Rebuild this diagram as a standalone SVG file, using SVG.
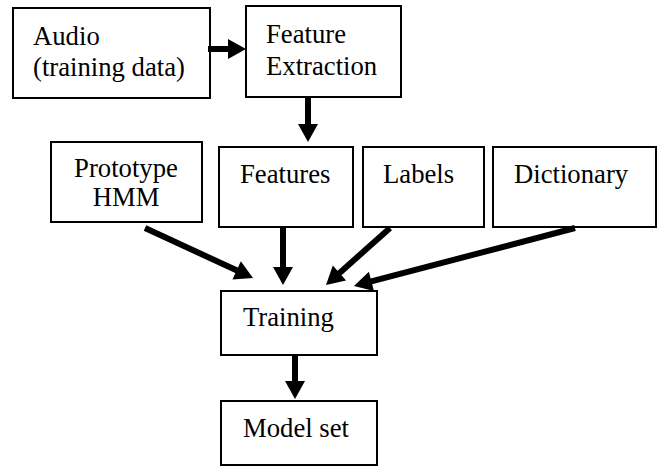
<svg xmlns="http://www.w3.org/2000/svg" width="665" height="466" viewBox="0 0 665 466">
<rect width="665" height="466" fill="#fff"/>
<g id="audio">
<rect x="13" y="8" width="197" height="90" fill="#fff" stroke="#000" stroke-width="2"/>
<text x="33" y="45" font-family="Liberation Serif" font-size="26.7">Audio</text>
<text x="33" y="76" font-family="Liberation Serif" font-size="26.7">(training data)</text>
</g>
<g id="feature-extraction">
<rect x="246" y="6" width="155" height="91" fill="#fff" stroke="#000" stroke-width="2"/>
<text x="266" y="43" font-family="Liberation Serif" font-size="26.7">Feature</text>
<text x="266" y="75" font-family="Liberation Serif" font-size="26.7">Extraction</text>
</g>
<g id="prototype-hmm">
<rect x="51" y="142" width="151" height="80" fill="#fff" stroke="#000" stroke-width="2"/>
<text x="126" y="177" text-anchor="middle" font-family="Liberation Serif" font-size="26.7">Prototype</text>
<text x="126" y="206" text-anchor="middle" font-family="Liberation Serif" font-size="26.7">HMM</text>
</g>
<g id="features">
<rect x="219" y="147" width="134" height="80" fill="#fff" stroke="#000" stroke-width="2"/>
<text x="240" y="183" font-family="Liberation Serif" font-size="26.7">Features</text>
</g>
<g id="labels">
<rect x="363" y="147" width="121" height="80" fill="#fff" stroke="#000" stroke-width="2"/>
<text x="383" y="183" font-family="Liberation Serif" font-size="26.7">Labels</text>
</g>
<g id="dictionary">
<rect x="493" y="147" width="163" height="80" fill="#fff" stroke="#000" stroke-width="2"/>
<text x="514" y="183" font-family="Liberation Serif" font-size="26.7">Dictionary</text>
</g>
<g id="training">
<rect x="221" y="291" width="156" height="64" fill="#fff" stroke="#000" stroke-width="2"/>
<text x="243" y="326" font-family="Liberation Serif" font-size="26.7">Training</text>
</g>
<g id="model-set">
<rect x="221" y="401" width="156" height="64" fill="#fff" stroke="#000" stroke-width="2"/>
<text x="243" y="437" font-family="Liberation Serif" font-size="26.7">Model set</text>
</g>
<g id="connectors" stroke="#000" stroke-width="6" fill="#000">
<line x1="208" y1="49" x2="229" y2="49"/>
<polygon stroke="none" points="228,39 246,49 228,59"/>
<line x1="308" y1="97" x2="308" y2="125"/>
<polygon stroke="none" points="318,124 308,142 298,124"/>
<line x1="145" y1="228" x2="237.6" y2="270.8"/>
<polygon stroke="none" points="232.46,279.52 253,278 240.86,261.36"/>
<line x1="283" y1="227" x2="283" y2="268"/>
<polygon stroke="none" points="273,267 283,285 293,267"/>
<line x1="390" y1="228" x2="338.7" y2="273.7"/>
<polygon stroke="none" points="332.79,265.56 326,285 346.09,280.50"/>
<line x1="575" y1="228" x2="370.4" y2="281.7"/>
<polygon stroke="none" points="368.87,271.76 354,286 373.95,291.10"/>
<line x1="295" y1="355" x2="295" y2="382"/>
<polygon stroke="none" points="285,381 295,399 305,381"/>
</g>
</svg>
